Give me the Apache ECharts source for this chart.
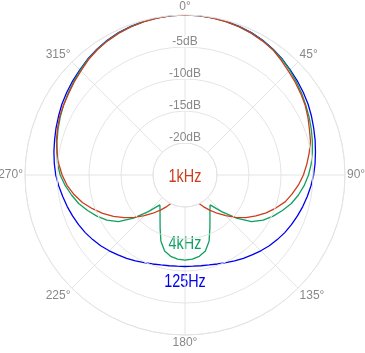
<!DOCTYPE html>
<html>
<head>
<meta charset="utf-8">
<script src="https://cdn.jsdelivr.net/npm/echarts@6/dist/echarts.min.js"></script>
<style>
  html, body { margin: 0; padding: 0; background: #fff; }
  #chart { width: 365px; height: 353px; }
</style>
</head>
<body>
<div id="chart"></div>
<script>
// 角度（度），每 5 度一个点
var angles = [0, 5, 10, 15, 20, 25, 30, 35, 40, 45, 50, 55, 60, 65, 70, 75, 80, 85, 90,
  95, 100, 105, 110, 115, 120, 125, 130, 135, 140, 145, 150, 155, 160, 165, 170, 175, 180,
  185, 190, 195, 200, 205, 210, 215, 220, 225, 230, 235, 240, 245, 250, 255, 260, 265, 270,
  275, 280, 285, 290, 295, 300, 305, 310, 315, 320, 325, 330, 335, 340, 345, 350, 355, 360];

// 1kHz 响应 (dB)
var red1k = [0, 0, -0.1, -0.2, -0.35, -0.55, -0.8, -1.1, -1.6, -2.1, -2.5, -2.9, -3.3, -3.8, -4.3, -4.7, -5.3, -5.9, -6.5,
  -7.2, -8.0, -8.8, -9.9, -11.0, -12.2, -13.4, -14.7, -16.0, -17.2, -18.3, -19.3, -20.2, -21.0, -21.8, -22.5, -23.0, -23.5,
  -23.0, -22.5, -21.8, -21.0, -20.2, -19.3, -18.3, -17.2, -16.0, -14.7, -13.4, -12.1, -10.8, -9.6, -8.4, -7.4, -6.5, -5.8,
  -5.2, -4.7, -4.2, -3.8, -3.4, -3.1, -2.8, -2.4, -2.0, -1.5, -1.1, -0.8, -0.55, -0.35, -0.2, -0.1, 0, 0];

// 4kHz 响应 (dB)
var green4k = [0, 0, -0.08, -0.18, -0.32, -0.5, -0.75, -1.05, -1.4, -1.85, -2.3, -2.75, -3.2, -3.6, -4.0, -4.4, -4.8, -5.2, -5.7,
  -6.3, -7.0, -7.8, -8.8, -9.8, -10.9, -12.3, -14.5, -16.9, -18.9, -18.2, -17.2, -15.8, -14.0, -12.7, -12.1, -11.8, -11.7,
  -11.8, -12.1, -12.7, -14.0, -15.8, -17.2, -18.2, -18.9, -16.9, -14.5, -12.3, -10.9, -9.8, -8.8, -7.8, -7.0, -6.2, -5.5,
  -5.0, -4.7, -4.3, -3.9, -3.5, -3.1, -2.7, -2.3, -1.85, -1.4, -1.05, -0.75, -0.5, -0.32, -0.18, -0.08, 0, 0];

// 125Hz 响应 (dB)
var blue125 = [0, 0, -0.05, -0.15, -0.3, -0.45, -0.7, -1.0, -1.35, -1.75, -2.1, -2.45, -2.8, -3.2, -3.6, -3.95, -4.3, -4.6, -4.9,
  -5.25, -5.6, -5.95, -6.3, -6.65, -7.0, -7.4, -7.8, -8.25, -8.7, -9.1, -9.5, -9.9, -10.2, -10.45, -10.6, -10.7, -10.7,
  -10.7, -10.6, -10.45, -10.2, -9.9, -9.5, -9.1, -8.7, -8.25, -7.8, -7.4, -7.0, -6.65, -6.3, -5.95, -5.6, -5.2, -4.8,
  -4.5, -4.2, -3.9, -3.55, -3.2, -2.8, -2.45, -2.1, -1.75, -1.35, -1.0, -0.7, -0.45, -0.3, -0.15, -0.05, 0, 0];

var dbTicks = [-20, -15, -10, -5, 0];

var FONT = "'Liberation Sans', Arial, sans-serif";
var GRID = '#e4e4e4';

function toPolar(vals){
	return angles.map(function(a, i){ return [vals[i], a]; });
}

// 中间的频率标注（字体较窄，横向压缩）
function freqLabel(text, color, y){
	return {
		type: 'text', x: 185, y: y, scaleX: 0.8,
		style: { text: text, fill: color, font: '18px ' + FONT, textAlign: 'center', textVerticalAlign: 'middle' }
	};
}

var polarChart = {
	init:function(){
		var option = {
			animation: false,
			polar: {
				center: [185, 175],
				radius: [32, 160]
			},
			angleAxis: {
				type: 'value',
				min: 0,
				max: 360,
				interval: 45,
				startAngle: 90,
				clockwise: true,
				axisLine: { lineStyle: { color: GRID } },
				axisTick: { show: false },
				axisLabel: {
					formatter: function(v){ return v === 360 ? '' : v + '°'; },
					color: '#888',
					fontSize: 12,
					fontFamily: FONT,
					margin: 2
				},
				splitLine: { lineStyle: { color: GRID } }
			},
			radiusAxis: {
				type: 'value',
				min: dbTicks[0],
				max: dbTicks[dbTicks.length - 1],
				interval: 5,
				axisLine: { show: false },
				axisTick: { show: false },
				splitLine: { lineStyle: { color: GRID } },
				axisLabel: {
					formatter: function(v){ return v === 0 ? '' : v + 'dB'; },
					color: '#888',
					fontSize: 12,
					fontFamily: FONT,
					lineHeight: 10,
					margin: 0,
					align: 'center',
					verticalAlign: 'bottom',
					backgroundColor: '#fff',
					padding: [0, 1, 0, 1]
				},
				z: 5
			},
			graphic: [
				freqLabel('1kHz', '#cc3d1c', 177),
				freqLabel('4kHz', '#10a060', 244),
				freqLabel('125Hz', '#0000ee', 282)
			],
			series: [
				{ name: '125Hz', type: 'line', coordinateSystem: 'polar', data: toPolar(blue125), showSymbol: false, clip: false, lineStyle: { color: '#0000ee', width: 1.3 } },
				{ name: '4kHz', type: 'line', coordinateSystem: 'polar', data: toPolar(green4k), showSymbol: false, clip: false, lineStyle: { color: '#10a060', width: 1.3 } },
				{ name: '1kHz', type: 'line', coordinateSystem: 'polar', data: toPolar(red1k), showSymbol: false, clip: false, lineStyle: { color: '#cc3d1c', width: 1.3 } }
			]
		};
		var chart = echarts.init(document.getElementById('chart'));
		chart.setOption(option);
		return chart;
	}
};

polarChart.init();
</script>
</body>
</html>
